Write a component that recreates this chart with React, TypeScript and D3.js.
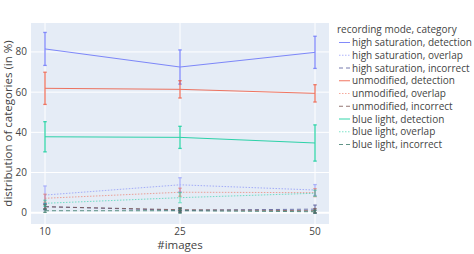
import React from "react";
import * as d3 from "d3";

const xCats = ["10", "25", "50"];
const yTicks = [0, 20, 40, 60, 80];

const seriesNames = [
  "high saturation, detection",
  "high saturation, overlap",
  "high saturation, incorrect",
  "unmodified, detection",
  "unmodified, overlap",
  "unmodified, incorrect",
  "blue light, detection",
  "blue light, overlap",
  "blue light, incorrect",
];
const hsDet = [81.5, 72.5, 79.8];
const hsDetErr = [8.2, 8.5, 8.0];
const hsOv = [8.8, 13.9, 11.3];
const hsOvErr = [4.5, 3.5, 2.7];
const hsInc = [3.0, 1.2, 1.8];
const hsIncErr = [1.5, 1.0, 2.0];
const unDet = [61.9, 61.4, 59.4];
const unDetErr = [8.0, 4.3, 4.3];
const unOv = [7.2, 10.2, 10.0];
const unOvErr = [2.0, 2.0, 2.0];
const unInc = [3.0, 1.5, 1.0];
const unIncErr = [1.0, 1.0, 1.0];
const blDet = [37.8, 37.5, 34.7];
const blDetErr = [7.5, 5.5, 9.0];
const blOv = [4.7, 7.5, 9.7];
const blOvErr = [1.5, 2.5, 1.5];
const blInc = [1.0, 1.0, 0.5];
const blIncErr = [0.8, 1.2, 0.7];

const values = [hsDet, hsOv, hsInc, unDet, unOv, unInc, blDet, blOv, blInc];
const errors = [hsDetErr, hsOvErr, hsIncErr, unDetErr, unOvErr, unIncErr, blDetErr, blOvErr, blIncErr];
const colors = ["#636efa", "#636efa", "#555a99", "#ef553b", "#ef553b", "#7a5550", "#00cc96", "#00cc96", "#3a7a6a"];
const dashes = ["none", "1.5,1.5", "4,3", "none", "1.5,1.5", "4,3", "none", "1.5,1.5", "4,3"];
const opac = [0.8, 0.5, 0.8, 0.8, 0.5, 0.8, 0.8, 0.5, 0.8];

const W = 474, H = 254;
const L = 31, R = 329, T = 23, B = 224;
const font = "'Open Sans', sans-serif";

export default function App() {
  const x = d3.scalePoint<string>().domain(xCats).range([45, 315]);
  const y = d3.scaleLinear().domain([-5.6, 94.4]).range([B, T]);
  const line = d3.line<number>().x((_, i) => x(xCats[i]) as number).y((d) => y(d));
  return (
    <svg width={W} height={H} style={{ position: "absolute", left: 0, top: 0, background: "#fff" }}>
      <rect x={L} y={T} width={R - L} height={B - T} fill="#e5ecf6" />
      {xCats.map((c) => (
        <line key={c} x1={x(c)} x2={x(c)} y1={T} y2={B} stroke="#fff" strokeWidth={1} />
      ))}
      {yTicks.map((t) => (
        <line key={t} x1={L} x2={R} y1={y(t)} y2={y(t)} stroke="#fff" strokeWidth={t === 0 ? 2 : 1} />
      ))}
      {yTicks.map((t) => (
        <text key={t} x={L - 4} y={y(t) + 3.5} textAnchor="end" fontFamily={font} fontSize={10} fill="#444">
          {t}
        </text>
      ))}
      {xCats.map((c) => (
        <text key={c} x={x(c)} y={234.5} textAnchor="middle" fontFamily={font} fontSize={10} fill="#444">
          {c}
        </text>
      ))}
      <text x={180} y={248.5} textAnchor="middle" fontFamily={font} fontSize={11.5} fill="#444">#images</text>
      <text transform={`translate(12,${(T + B) / 2}) rotate(-90)`} textAnchor="middle" fontFamily={font} fontSize={11.5} fill="#444">
        distribution of categories (in %)
      </text>
      {values.map((vals, s) => (
        <g key={s} opacity={opac[s]}>
          {vals.map((v, i) => {
            const cx = x(xCats[i]) as number;
            const e = errors[s][i];
            return (
              <g key={i} stroke={colors[s]} strokeWidth={1.3}>
                <line x1={cx} x2={cx} y1={y(v + e)} y2={y(v - e)} />
                <line x1={cx - 1.7} x2={cx + 1.7} y1={y(v + e)} y2={y(v + e)} />
                <line x1={cx - 1.7} x2={cx + 1.7} y1={y(v - e)} y2={y(v - e)} />
              </g>
            );
          })}
          <path d={line(vals) || ""} fill="none" stroke={colors[s]} strokeWidth={1} strokeDasharray={dashes[s]} />
        </g>
      ))}
      <text x={337} y={33} fontFamily={font} fontSize={10} fill="#444">recording mode, category</text>
      {seriesNames.map((n, i) => {
        const ly = 42.5 + i * 12.75;
        return (
          <g key={n}>
            <line x1={339} x2={350} y1={ly} y2={ly} stroke={colors[i]} opacity={opac[i]} strokeWidth={1} strokeDasharray={dashes[i]} />
            <text x={352} y={ly + 3.5} fontFamily={font} fontSize={10} fill="#444">{n}</text>
          </g>
        );
      })}
    </svg>
  );
}
